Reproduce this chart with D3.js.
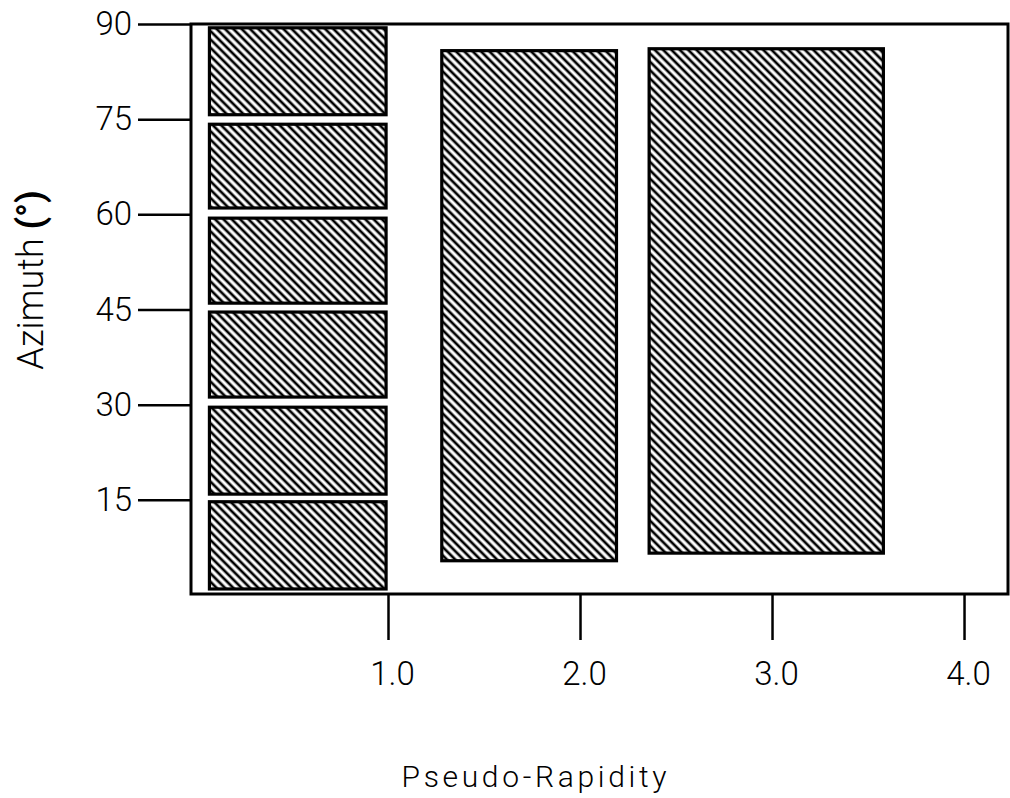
<!DOCTYPE html>
<html>
<head>
<meta charset="utf-8">
<script src="https://cdn.jsdelivr.net/npm/d3@7"></script>
<style>
  html, body { margin: 0; padding: 0; background: #fff; }
  svg { display: block; }
  .tick text { font-family: "Roboto", "Lato", "Open Sans", "DejaVu Sans", sans-serif; font-weight: 300; fill: #000; }
</style>
</head>
<body>
<svg id="chart" width="1010" height="798"></svg>
<script>
// Detector cell boundaries: pseudo-rapidity (eta) and azimuth (degrees)
const cellEtaLo = [0.07, 0.07, 0.07, 0.07, 0.07, 0.07, 1.28, 2.36];
const cellEtaHi = [0.99, 0.99, 0.99, 0.99, 0.99, 0.99, 2.19, 3.58];
const cellAzLo  = [0.95, 15.9, 31.2, 46.0, 61.0, 75.7, 5.4, 6.6];
const cellAzHi  = [14.7, 29.6, 44.6, 59.4, 74.2, 89.4, 85.8, 86.1];

const xTickValues = [1.0, 2.0, 3.0, 4.0];
const xTickLabels = ["1.0", "2.0", "3.0", "4.0"];
const yTickValues = [15, 30, 45, 60, 75, 90];
const yTickLabels = ["15", "30", "45", "60", "75", "90"];

const xTitle = "Pseudo-Rapidity";
const yTitle = "Azimuth";

const svg = d3.select("#chart");
const frame = { left: 191, right: 1008, top: 24, bottom: 594 };

const x = d3.scaleLinear().domain([-0.026, 4.229]).range([frame.left, frame.right]);
const y = d3.scaleLinear().domain([0, 90]).range([595, 24]);

// diagonal hatch fill
const defs = svg.append("defs");
const period = 5.9;
const pat = defs.append("pattern")
  .attr("id", "hatch")
  .attr("patternUnits", "userSpaceOnUse")
  .attr("width", 10)
  .attr("height", period)
  .attr("patternTransform", "rotate(45)");
pat.append("rect").attr("width", 10).attr("height", period).attr("fill", "#fff");
pat.append("line")
  .attr("x1", 0).attr("x2", 10)
  .attr("y1", period / 2).attr("y2", period / 2)
  .attr("stroke", "#000").attr("stroke-width", 2.7);

// plot frame
svg.append("rect")
  .attr("x", frame.left).attr("y", frame.top)
  .attr("width", frame.right - frame.left)
  .attr("height", frame.bottom - frame.top)
  .attr("fill", "none").attr("stroke", "#000").attr("stroke-width", 3);

// cells
const cells = d3.range(cellEtaLo.length).map(i => ({
  e0: cellEtaLo[i], e1: cellEtaHi[i], a0: cellAzLo[i], a1: cellAzHi[i]
}));
svg.append("g").selectAll("rect").data(cells).join("rect")
  .attr("x", d => x(d.e0))
  .attr("y", d => y(d.a1))
  .attr("width", d => x(d.e1) - x(d.e0))
  .attr("height", d => y(d.a0) - y(d.a1))
  .attr("fill", "url(#hatch)")
  .attr("stroke", "#000")
  .attr("stroke-width", 3.2);

// y axis: ticks point outward from the frame
const yAxis = d3.axisLeft(y)
  .tickValues(yTickValues)
  .tickFormat((d, i) => yTickLabels[i])
  .tickSize(52)
  .tickPadding(6);
const gy = svg.append("g").attr("transform", `translate(${frame.left - 1},0)`).call(yAxis);
gy.select(".domain").remove();
gy.selectAll(".tick line").attr("stroke", "#000").attr("stroke-width", 2.5);
gy.selectAll(".tick text").attr("font-size", 33);

// x axis: ticks hang below the frame
const xAxis = d3.axisBottom(x)
  .tickValues(xTickValues)
  .tickFormat((d, i) => xTickLabels[i])
  .tickSize(46)
  .tickPadding(22);
const gx = svg.append("g").attr("transform", `translate(0,${frame.bottom})`).call(xAxis);
gx.select(".domain").remove();
gx.selectAll(".tick line").attr("stroke", "#000").attr("stroke-width", 2.5);
gx.selectAll(".tick text").attr("font-size", 33).attr("dx", 4);

// axis titles
svg.append("text")
  .attr("x", 534).attr("y", 787)
  .attr("text-anchor", "middle")
  .attr("font-family", "Roboto, 'DejaVu Sans', sans-serif")
  .attr("font-weight", 300)
  .attr("font-size", 30)
  .attr("fill", "#000")
  .attr("textLength", 265)
  .attr("lengthAdjust", "spacing")
  .text(xTitle);

const yt = svg.append("text")
  .attr("transform", "translate(43,280) rotate(-90)")
  .attr("text-anchor", "middle")
  .attr("font-family", "Roboto, 'DejaVu Sans', sans-serif")
  .attr("font-weight", 300)
  .attr("font-size", 36);
yt.append("tspan").text(yTitle + " ");
yt.append("tspan").attr("font-weight", 700).text("(°)");
</script>
</body>
</html>
